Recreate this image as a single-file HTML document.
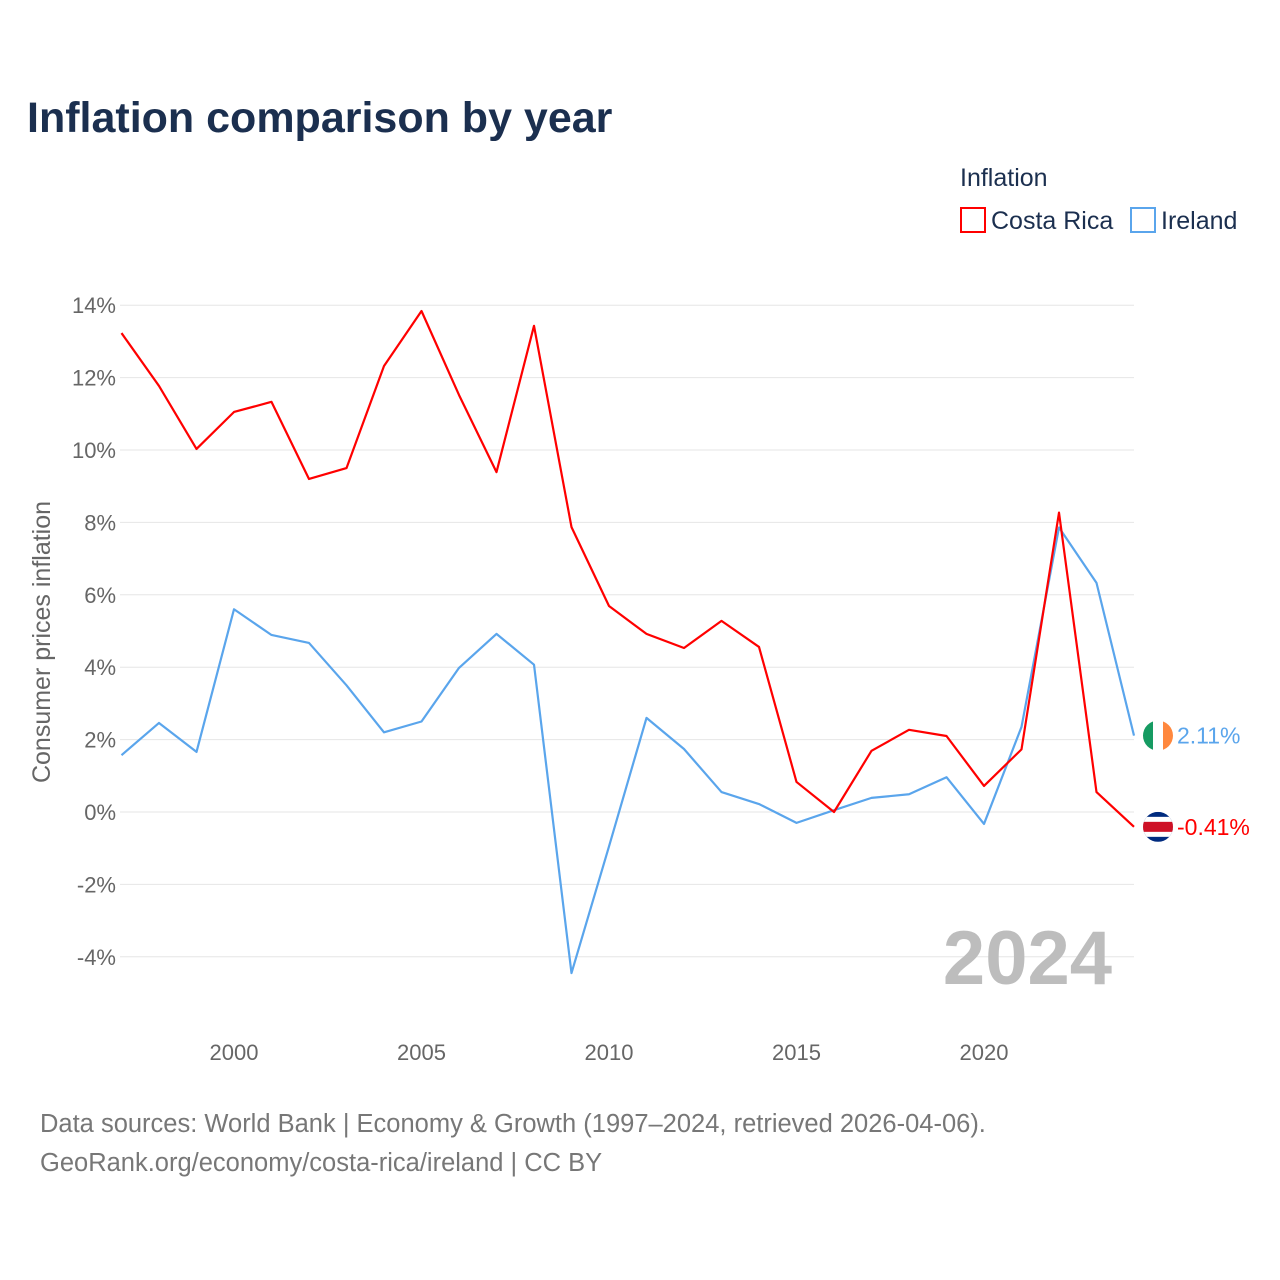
<!DOCTYPE html>
<html><head><meta charset="utf-8">
<style>
html,body{margin:0;padding:0;background:#fff;}
body{width:1280px;height:1280px;position:relative;font-family:"Liberation Sans",sans-serif;overflow:hidden;}
</style></head>
<body>
<svg id="chart" width="1280" height="1280" xmlns="http://www.w3.org/2000/svg" style="position:absolute;left:0;top:0">
<text x="27" y="132" font-size="43" font-weight="bold" fill="#1b2f4f">Inflation comparison by year</text>
<text x="960" y="186" font-size="25" fill="#1b2f4f">Inflation</text>
<g>
<rect x="961" y="208" width="24" height="24" fill="none" stroke="#ff0000" stroke-width="2"/>
<text x="991" y="229" font-size="25" fill="#1b2f4f">Costa Rica</text></g>
<g>
<rect x="1131" y="208" width="24" height="24" fill="none" stroke="#5aa5ec" stroke-width="2"/>
<text x="1161" y="229" font-size="25" fill="#1b2f4f">Ireland</text></g>
<text transform="translate(50,642) rotate(-90)" text-anchor="middle" font-size="25" fill="#666">Consumer prices inflation</text>
<g id="grid"></g><g id="series"></g>
<text x="1112" y="984" text-anchor="end" font-size="76" font-weight="bold" fill="#bdbdbd">2024</text>
<text x="40" y="1132" font-size="25.5" fill="#777">Data sources: World Bank | Economy &amp; Growth (1997–2024, retrieved 2026-04-06).</text>
<text x="40" y="1171" font-size="25.5" fill="#777">GeoRank.org/economy/costa-rica/ireland | CC BY</text>
</svg>
<script>
const years=[1997,1998,1999,2000,2001,2002,2003,2004,2005,2006,2007,2008,2009,2010,2011,2012,2013,2014,2015,2016,2017,2018,2019,2020,2021,2022,2023,2024];
const costaRica=[13.23,11.77,10.03,11.05,11.33,9.2,9.5,12.32,13.84,11.52,9.39,13.43,7.87,5.69,4.92,4.53,5.28,4.56,0.83,0.0,1.69,2.27,2.1,0.72,1.73,8.27,0.55,-0.41];
const ireland=[1.57,2.46,1.66,5.6,4.89,4.67,3.5,2.2,2.5,3.98,4.92,4.07,-4.45,-0.95,2.6,1.74,0.55,0.22,-0.3,0.05,0.39,0.49,0.96,-0.33,2.35,7.86,6.33,2.11];
const yTicks=[14,12,10,8,6,4,2,0,-2,-4];
const xTicks=[2000,2005,2010,2015,2020];
const NS="http://www.w3.org/2000/svg";
const x=v=>121.5+(v-1997)*(1134-121.5)/27;
const y=v=>812-v*36.2;
const grid=document.getElementById('grid'),ser=document.getElementById('series');
function mk(tag,attrs,parent){const e=document.createElementNS(NS,tag);for(const k in attrs)e.setAttribute(k,attrs[k]);parent.appendChild(e);return e;}
yTicks.forEach(t=>{
 const l=mk('line',{x1:120,x2:1134,y1:y(t),y2:y(t),stroke:'#e6e6e6','stroke-width':1},grid);
 
 
 const tx=mk('text',{x:116,y:y(t)+8,'text-anchor':'end','font-size':22,fill:'#666'},grid);
 tx.textContent=t+'%';
 
 
});
xTicks.forEach(t=>{
 const tx=mk('text',{x:x(t),y:1060,'text-anchor':'middle','font-size':22,fill:'#666'},grid);
 tx.textContent=t;
 
 
});
function line(vals,color,name){
 const p=mk('polyline',{points:vals.map((v,i)=>x(years[i])+','+y(v)).join(' '),fill:'none',stroke:color,'stroke-width':2.2,'stroke-linejoin':'round'},ser);
 
 
}
line(ireland,'#5aa5ec','ireland-line');
line(costaRica,'#ff0000','costa-rica-line');
const iv=ireland[ireland.length-1],cv=costaRica[costaRica.length-1];
const fx=1158;
const fi=mk('g',{},ser);


mk('clipPath',{id:'c1'},fi).appendChild(document.createElementNS(NS,'circle'));
const c1=fi.querySelector('clipPath circle');c1.setAttribute('cx',fx);c1.setAttribute('cy',y(iv));c1.setAttribute('r',15);
const gi=mk('g',{'clip-path':'url(#c1)'},fi);
mk('rect',{x:fx-15,y:y(iv)-15,width:10,height:30,fill:'#169b62'},gi);
mk('rect',{x:fx-5,y:y(iv)-15,width:10,height:30,fill:'#fff'},gi);
mk('rect',{x:fx+5,y:y(iv)-15,width:10,height:30,fill:'#ff883e'},gi);
const fc=mk('g',{},ser);


mk('clipPath',{id:'c2'},fc).appendChild(document.createElementNS(NS,'circle'));
const c2=fc.querySelector('clipPath circle');c2.setAttribute('cx',fx);c2.setAttribute('cy',y(cv));c2.setAttribute('r',15);
const gc=mk('g',{'clip-path':'url(#c2)'},fc);
mk('rect',{x:fx-15,y:y(cv)-15,width:30,height:30,fill:'#002b7f'},gc);
mk('rect',{x:fx-15,y:y(cv)-10,width:30,height:20,fill:'#fff'},gc);
mk('rect',{x:fx-15,y:y(cv)-5,width:30,height:10,fill:'#ce1126'},gc);
const ti=mk('text',{x:1177,y:y(iv)+8,'font-size':23,fill:'#5aa5ec'},ser);
ti.textContent=iv.toFixed(2)+'%';


const tc=mk('text',{x:1177,y:y(cv)+8,'font-size':23,fill:'#ff0000'},ser);
tc.textContent=cv.toFixed(2)+'%';


</script>
</body></html>
